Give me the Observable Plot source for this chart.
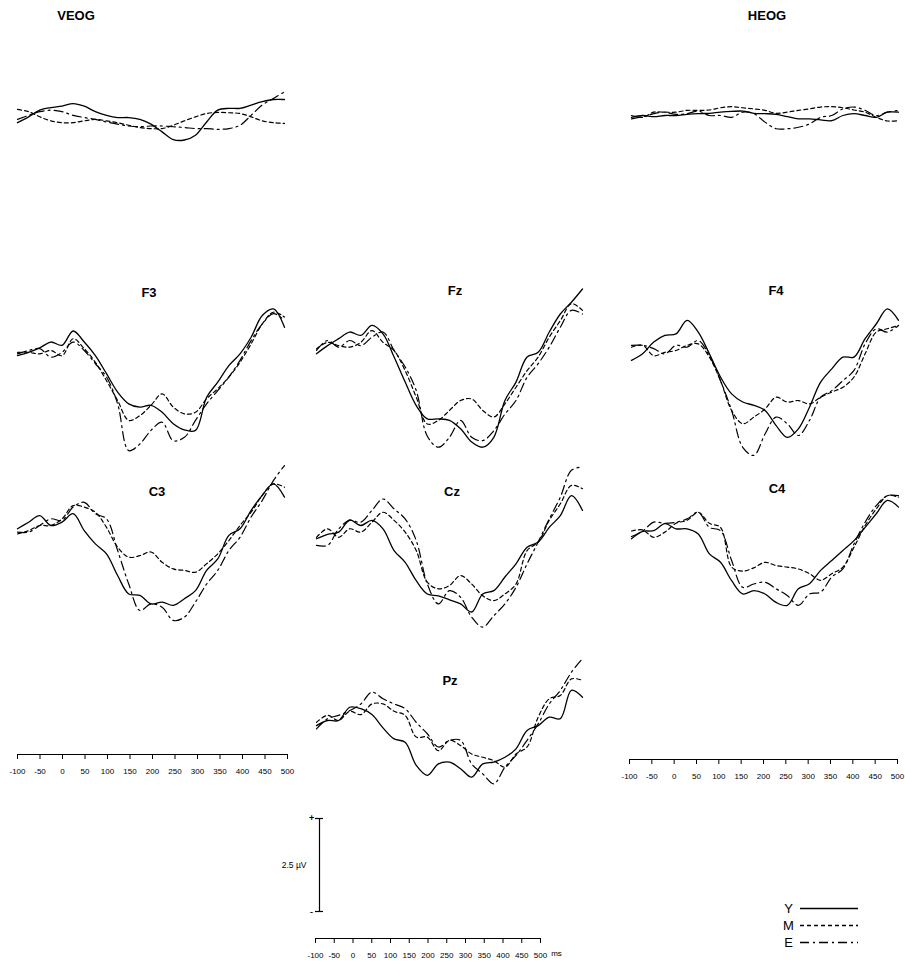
<!DOCTYPE html>
<html><head><meta charset="utf-8">
<script src="https://cdn.jsdelivr.net/npm/d3@7"></script>
<script src="https://cdn.jsdelivr.net/npm/@observablehq/plot@0.6"></script>
<style>
body{margin:0;background:#fff;font-family:"Liberation Sans",Arial,sans-serif}
#c{position:relative;width:905px;height:963px;overflow:hidden}
#c svg{position:absolute;overflow:visible}
.ttl{position:absolute;font-weight:bold;font-size:13px;transform:translate(-50%,-50%);white-space:nowrap;color:#000}
</style></head>
<body><div id="c"></div>
<script>
// ---------- data (µV, positive up) ----------
const time = [-100,-75,-50,-25,0,25,50,75,100,125,150,175,200,225,250,275,300,325,350,375,400,425,450,475,500];
const groups = ["Y","M","E"];
const axisTicks = [-100,-50,0,50,100,150,200,250,300,350,400,450,500];
const scaleBarUV = 2.5;

const veogY = [-0.25,-0.09,0.09,0.16,0.2,0.27,0.2,0.05,-0.05,-0.11,-0.11,-0.16,-0.29,-0.5,-0.71,-0.72,-0.59,-0.23,0.09,0.14,0.14,0.23,0.32,0.38,0.38];
const veogM = [0.11,0.05,-0.09,-0.2,-0.25,-0.25,-0.2,-0.16,-0.2,-0.25,-0.32,-0.38,-0.41,-0.41,-0.32,-0.2,-0.09,0,0.03,0.02,0,-0.09,-0.2,-0.25,-0.27];
const veogE = [-0.16,-0.05,0.05,0.09,0.05,-0.05,-0.11,-0.16,-0.23,-0.29,-0.34,-0.36,-0.34,-0.34,-0.36,-0.38,-0.41,-0.41,-0.43,-0.41,-0.32,-0.05,0.23,0.41,0.59];

const heogY = [-0.05,0,-0.03,0,0,0.03,0.05,0.06,0.09,0.11,0.12,0.06,0.05,0.03,-0.03,-0.09,-0.09,-0.12,-0.14,0,0.05,0,-0.05,0.09,0.09];
const heogM = [0,-0.05,0.09,0.09,0.09,0.14,0.14,0.15,0.21,0.24,0.21,0.18,0.14,0.06,0.09,0.14,0.18,0.23,0.24,0.21,0.15,0.09,-0.05,-0.15,-0.14];
const heogE = [-0.09,-0.03,0.05,0.09,0.03,0.05,0.12,0,0,-0.05,0.09,0.05,-0.18,-0.36,-0.36,-0.32,-0.23,-0.05,0,0.18,0.23,0.14,0,0.09,0.14];

const f3Y = [-0.14,-0.05,0.07,0.23,0.14,0.53,0.23,-0.14,-0.63,-1.13,-1.45,-1.54,-1.49,-1.68,-1.99,-2.16,-2.17,-1.27,-0.86,-0.41,-0.09,0.36,0.95,1.13,0.63];
const f3M = [-0.05,-0.05,-0.09,0,-0.14,0.32,0.05,-0.32,-0.82,-1.36,-1.9,-1.77,-1.49,-1.18,-1.54,-1.72,-1.68,-1.31,-1.04,-0.72,-0.32,0.18,0.72,1.04,0.91];
const f3E = [-0.09,0,0.05,-0.18,-0.05,0.23,0,-0.36,-0.72,-1.45,-2.72,-2.54,-2.17,-1.95,-2.45,-2.36,-1.9,-1.45,-1.09,-0.72,-0.27,0.27,0.72,1.0,0.82];

const fzY = [-0.36,-0.14,0.05,0.23,0.14,0.41,0.18,-0.45,-1.13,-1.77,-2.13,-2.13,-2.17,-2.4,-2.76,-2.9,-2.63,-1.63,-1.13,-0.45,-0.32,0.23,0.72,1.04,1.4];
const fzM = [-0.23,-0.05,-0.14,-0.18,-0.05,0.27,-0.05,-0.27,-0.82,-1.54,-2.27,-2.17,-1.9,-1.63,-1.59,-1.9,-2.08,-1.72,-1.27,-0.82,-0.45,0.09,0.54,1.0,0.82];
const fzE = [-0.27,0,-0.18,0,-0.14,0.09,0.23,-0.27,-0.72,-1.36,-2.6,-2.9,-2.63,-2.17,-2.63,-2.72,-2.45,-2.0,-1.63,-1.0,-0.63,-0.18,0.36,0.82,0.72];

const f4Y = [-0.27,-0.09,0.23,0.41,0.45,0.82,0.5,-0.09,-0.72,-1.18,-1.4,-1.49,-1.63,-2.04,-2.36,-2.13,-1.54,-0.86,-0.5,-0.18,-0.18,0.32,0.72,1.13,0.82];
const f4M = [0.09,0.14,-0.14,-0.05,0,0.14,0.18,-0.18,-0.82,-1.63,-1.99,-1.81,-1.59,-1.27,-1.4,-1.36,-1.45,-1.27,-1.13,-1.0,-0.72,-0.09,0.5,0.59,0.68];
const f4E = [0.14,0.14,0.05,-0.09,0.14,0.09,0.27,-0.14,-0.82,-1.63,-2.63,-2.85,-2.27,-1.81,-1.99,-2.31,-1.9,-1.27,-1.09,-0.82,-0.54,0.18,0.59,0.5,0.68];

const c3Y = [-0.09,0.09,0.27,0,0.09,0.32,-0.14,-0.5,-0.77,-1.36,-1.86,-1.9,-2.13,-2.08,-2.17,-1.99,-1.77,-1.22,-0.91,-0.27,-0.09,0.41,0.82,1.13,0.77];
const c3M = [-0.23,-0.14,0,0,0.18,0.54,0.5,0.36,-0.05,-0.59,-0.86,-0.82,-0.72,-1.0,-1.18,-1.22,-1.27,-1.04,-0.77,-0.41,0,0.36,0.82,1.13,1.04];
const c3E = [-0.18,-0.18,0,0.18,0.14,0.5,0.63,0.32,0.18,-0.68,-1.59,-2.31,-2.13,-2.22,-2.58,-2.49,-2.08,-1.59,-1.22,-0.68,-0.32,0.23,0.68,1.22,1.63];

const czY = [-0.17,-0.05,0.01,0.34,0.19,0.33,0.1,-0.49,-0.81,-1.31,-1.67,-1.72,-1.83,-1.94,-2.16,-1.67,-1.58,-1.21,-0.85,-0.4,-0.26,0.14,0.46,1.0,0.6];
const czM = [-0.13,0.1,-0.13,0.1,0.01,0.28,0.55,0.33,0.01,-0.49,-1.35,-1.53,-1.44,-1.17,-1.4,-1.72,-1.85,-1.67,-1.4,-0.49,-0.26,0.33,0.78,1.28,1.19];
const czE = [-0.35,-0.35,0.1,0.33,0.28,0.6,0.91,0.64,0.37,-0.22,-1.4,-1.94,-1.58,-1.76,-2.3,-2.57,-2.26,-1.94,-1.49,-0.85,-0.26,0.37,0.96,1.69,1.78];

const c4Y = [-0.17,0.03,0.05,0.24,0.1,0.1,-0.04,-0.58,-0.81,-1.31,-1.67,-1.58,-1.67,-1.9,-1.98,-1.53,-1.39,-1.03,-0.76,-0.49,-0.22,0.14,0.51,0.87,0.69];
const c4M = [0.04,0.07,-0.13,0.01,0.25,0.33,0.55,0.25,0.14,-0.94,-1.05,-0.96,-0.81,-0.9,-0.94,-0.99,-1.12,-1.3,-1.12,-0.94,-0.4,0.19,0.64,1.0,0.96];
const c4E = [-0.11,0.04,0.28,0.25,0.28,0.37,0.55,0.14,0.05,-0.76,-1.49,-1.4,-1.35,-1.53,-1.71,-1.98,-1.67,-1.62,-1.21,-0.99,-0.31,0.28,0.73,1.0,1.0];

const pzY = [-0.14,0,0,0.36,0.32,0.16,-0.2,-0.5,-0.59,-1.22,-1.49,-1.18,-1.13,-1.31,-1.54,-1.18,-1.13,-1.0,-0.77,-0.27,-0.14,0.09,0.05,0.82,0.63];
const pzM = [-0.05,0.14,0,0.25,0.16,0.45,0.45,0.25,0.14,-0.45,-0.45,-0.82,-0.54,-0.68,-0.91,-1.0,-1.09,-1.27,-0.91,-0.72,0.09,0.59,0.68,1.13,1.09];
const pzE = [-0.23,0.05,0.14,0.27,0.45,0.77,0.59,0.45,0.32,-0.05,-0.36,-0.72,-0.54,-0.54,-1.18,-1.45,-1.72,-1.27,-0.95,-0.54,-0.09,0.45,0.82,1.31,1.68];

// ---------- layout ----------
const PX_PER_UV = 36.8;
const cols = [[17,284],[316,582],[631,898]];
const panels = [
  {name:"VEOG", col:0, base:113, tx:76, ty:15, Y:veogY, M:veogM, E:veogE},
  {name:"HEOG", col:2, base:115, tx:767, ty:15, Y:heogY, M:heogM, E:heogE},
  {name:"F3", col:0, base:350, tx:149, ty:292, Y:f3Y, M:f3M, E:f3E},
  {name:"Fz", col:1, base:340, tx:455, ty:290, Y:fzY, M:fzM, E:fzE},
  {name:"F4", col:2, base:350, tx:776, ty:290, Y:f4Y, M:f4M, E:f4E},
  {name:"C3", col:0, base:525, tx:157, ty:491, Y:c3Y, M:c3M, E:c3E},
  {name:"Cz", col:1, base:532, tx:452, ty:491, Y:czY, M:czM, E:czE},
  {name:"C4", col:2, base:532, tx:777, ty:488, Y:c4Y, M:c4M, E:c4E},
  {name:"Pz", col:1, base:720, tx:450, ty:680, Y:pzY, M:pzM, E:pzE}
];
const dash = {Y:null, M:"4,3", E:"9,4,2,4"};
const C = document.getElementById("c");

function place(svg, left, top){ svg.style.left = left+"px"; svg.style.top = top+"px"; C.appendChild(svg); }

for (const p of panels) {
  const [x0,x1] = cols[p.col];
  const rows = [];
  for (const g of groups) p[g].forEach((v,i)=>rows.push({t:time[i], v, g}));
  const marks = groups.map(g => Plot.line(rows.filter(r=>r.g===g), {
    x:"t", y:"v", curve:"catmull-rom", stroke:"#000",
    strokeWidth: g==="Y" ? 1.3 : 1.2, strokeDasharray: dash[g] || undefined
  }));
  const svg = Plot.plot({
    width:905, height:963, margin:0,
    x:{domain:[-100,500], range:[x0,x1], axis:null},
    y:{domain:[-5,5], range:[p.base+5*PX_PER_UV, p.base-5*PX_PER_UV], axis:null},
    marks
  });
  place(svg,0,0);
  const t = document.createElement("div");
  t.className="ttl"; t.textContent=p.name;
  t.style.left=p.tx+"px"; t.style.top=p.ty+"px";
  C.appendChild(t);
}

// time axes
function timeAxis(left, top, x0, x1, unit){
  const svg = Plot.plot({
    width: x1 - x0 + 40, height: 36,
    marginLeft: 20, marginRight: 20, marginTop: 0, marginBottom: 30,
    x:{domain:[-100,500], axis:null},
    y:{axis:null, domain:[0,1]},
    style:{fontFamily:"'Liberation Sans',Arial,sans-serif", fontSize:"8px", color:"#000", overflow:"visible"},
    marks:[
      Plot.ruleY([0], {x1:-100, x2:500, stroke:"#000", strokeWidth:1.1}),
      Plot.axisX({anchor:"bottom", ticks:axisTicks, tickSize:5, tickPadding:9, tickFormat:d=>String(d), fontSize:8, stroke:"#000"}),
      ...(unit ? [Plot.text([unit], {x:500, frameAnchor:"bottom", dx:16, dy:17, fontSize:8, text:d=>d})] : [])
    ]
  });
  place(svg, left - 20, top);
}
timeAxis(17, 748, 17, 287);
timeAxis(629, 753, 629, 897);
timeAxis(315, 932, 315, 540, "ms");

// amplitude scale bar
{
  const svg = Plot.plot({
    width:80, height:120, margin:0,
    x:{domain:[-1,1], range:[20,60], axis:null},
    y:{domain:[0,scaleBarUV], range:[101,8], axis:null},
    style:{fontFamily:"'Liberation Sans',Arial,sans-serif", overflow:"visible"},
    marks:[
      Plot.ruleX([0], {y1:0, y2:scaleBarUV, stroke:"#000", strokeWidth:1.2}),
      Plot.ruleY([0, scaleBarUV], {x1:-0.2, x2:0.2, stroke:"#000", strokeWidth:1.2}),
      Plot.text(["+"], {x:-0.4, y:scaleBarUV, fontSize:9, fontWeight:"bold"}),
      Plot.text(["-"], {x:-0.4, y:0, fontSize:10}),
      Plot.text([scaleBarUV + " µV"], {x:-0.65, y:scaleBarUV/2, textAnchor:"end", fontSize:8.5})
    ]
  });
  place(svg, 279, 810);
}

// legend
{
  const svg = Plot.plot({
    width:100, height:60, margin:0,
    x:{domain:[0,1], range:[22,80], axis:null},
    y:{domain:groups, range:[8,42], type:"point", padding:0, axis:null},
    style:{fontFamily:"'Liberation Sans',Arial,sans-serif", overflow:"visible"},
    marks:[
      ...groups.map(g => Plot.ruleY([g], {y:d=>d, x1:0, x2:1, stroke:"#000", strokeWidth:1.3, strokeDasharray: dash[g] || undefined})),
      Plot.text(groups, {x:0, y:d=>d, text:d=>d, dx:-12, textAnchor:"middle", fontSize:13})
    ]
  });
  place(svg, 778, 900);
}
</script>
</body></html>
